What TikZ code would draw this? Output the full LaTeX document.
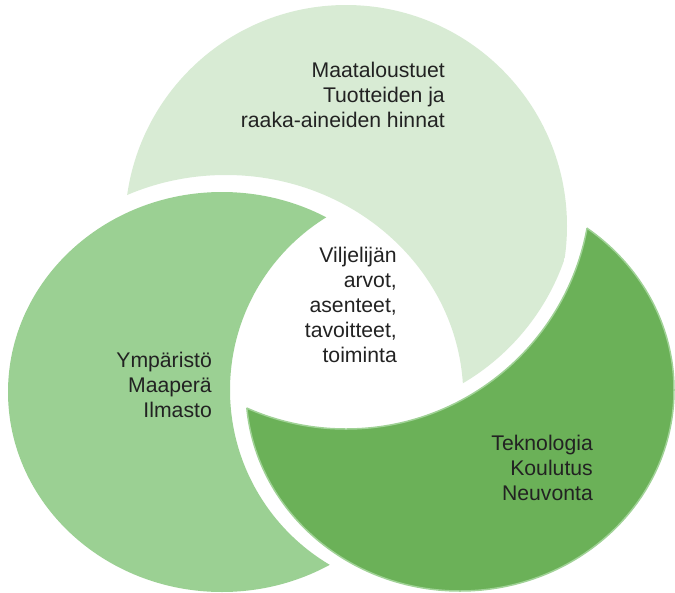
\documentclass[tikz,border=0pt]{standalone}
\usepackage{fontspec}
\setmainfont{Liberation Sans}
\definecolor{topc}{HTML}{D8EBD4}
\definecolor{leftc}{HTML}{9BD093}
\definecolor{rightc}{HTML}{6BB158}
\definecolor{rightline}{HTML}{A0D296}
\definecolor{txtc}{HTML}{222222}
\begin{document}
\begin{tikzpicture}[x=1pt,y=-1pt,
  lbl/.style={align=right,anchor=base east,inner sep=0pt,text=txtc,
    font=\fontsize{21.2}{25}\selectfont},
  outline/.style={draw=rightline,line width=1.5pt}]
\useasboundingbox (0,0) rectangle (675,592);
% top shape: circle, cut by the left ring and the right ring
\begin{scope}
  \clip (346,184) circle[radius=231];
  \begin{scope}[even odd rule]
    \clip (225.8,397) ellipse[x radius=237.5,y radius=222] (-50,-50) rectangle (725,650);
    \fill[topc] (346,226) circle[radius=221];
  \end{scope}
\end{scope}
% left shape
\begin{scope}[even odd rule]
  \clip (433,390) circle[radius=203] (-50,-50) rectangle (725,650);
  \fill[leftc] (222,392) ellipse[x radius=214,y radius=200];
\end{scope}
% right shape
\begin{scope}[even odd rule]
  \clip (346,184) circle[radius=245] (-50,-50) rectangle (725,650);
  \fill[rightc] (460,390) ellipse[x radius=214,y radius=201];
  \draw[outline] (460,390) ellipse[x radius=214,y radius=201];
\end{scope}
\begin{scope}
  \clip (460,390) ellipse[x radius=214,y radius=201];
  \draw[outline] (346,184) circle[radius=245];
\end{scope}
% labels
\node[lbl] (ttop) at (445,127) {Maataloustuet\\Tuotteiden ja\\raaka-aineiden hinnat};
\node[lbl] (tmid) at (397,362) {Viljelijän\\arvot,\\asenteet,\\tavoitteet,\\toiminta};
\node[lbl] (tleft) at (212,417) {Ympäristö\\Maaperä\\Ilmasto};
\node[lbl] (tright) at (593,500) {Teknologia\\Koulutus\\Neuvonta};
\end{tikzpicture}
\end{document}
